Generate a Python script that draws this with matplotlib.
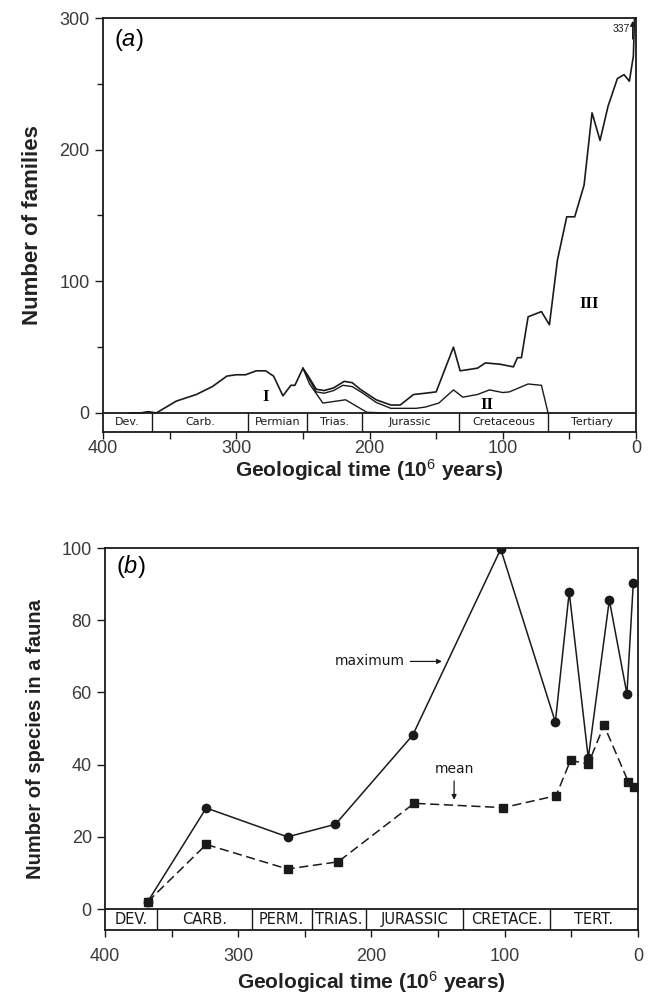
import matplotlib.pyplot as plt
from matplotlib.ticker import MultipleLocator

plt.rcParams['font.family'] = ['Liberation Sans', 'DejaVu Sans']
plt.rcParams['mathtext.fontset'] = 'custom'
plt.rcParams['mathtext.rm'] = 'Liberation Sans'
plt.rcParams['mathtext.it'] = 'Liberation Sans:italic'

# ---- panel (a): number of families through time ----
total_t = [380, 372, 366, 360, 345, 330, 318, 307, 300, 293, 285, 278, 272, 265, 259, 256,
           250, 246, 240, 234, 227, 219, 213, 207, 195, 184, 177, 167, 158, 150, 137, 132,
           119, 113, 102, 92, 89, 86, 81, 71, 65, 59, 52, 46, 39, 33, 27, 21, 14, 9, 5, 2, 0]
total_v = [0, 0, 1, 0, 9, 14, 20, 28, 29, 29, 32, 32, 28, 13, 21, 21,
           34, 28, 18, 17, 19, 24, 23, 18, 10, 6, 6, 14, 15, 16, 50, 32,
           34, 38, 37, 35, 42, 42, 73, 77, 67, 116, 149, 149, 173, 228, 207, 233, 254, 257, 252, 271, 337]

fauna2_t = [250, 240, 234, 227, 220, 213, 205, 195, 184, 177, 165, 158, 148, 137, 130,
            119, 110, 100, 95, 88, 81, 71, 66]
fauna2_v = [34, 16, 15, 17, 21, 20, 15, 8, 3.5, 3.5, 3.5, 4.5, 7.5, 17.5, 12,
            14, 17.5, 15.5, 16, 19, 22, 21, 0]

fauna1_t = [250, 245, 235, 218, 202, 188]
fauna1_v = [34, 22, 7.5, 10, 0.5, 0]

periods_a = ['Dev.', 'Carb.', 'Permian', 'Trias.', 'Jurassic', 'Cretaceous', 'Tertiary']
bounds_a = [400, 363, 291, 247, 206, 133, 66, 0]

# ---- panel (b): species per fauna ----
max_t = [368, 324, 263, 227, 169, 103, 62, 51.6, 37.3, 21.5, 8.3, 3.5]
max_v = [2, 28, 20, 23.5, 48.2, 99.7, 51.8, 87.8, 41.8, 85.6, 59.6, 90.4]

mean_t = [368, 324, 263, 225, 168, 101, 61.5, 50.6, 37.3, 25.5, 7.3, 3]
mean_v = [2, 17.9, 11.1, 13.1, 29.3, 28.1, 31.4, 41.2, 40.2, 50.9, 35.3, 33.8]

periods_b = ['DEV.', 'CARB.', 'PERM.', 'TRIAS.', 'JURASSIC', 'CRETACE.', 'TERT.']
bounds_b = [400, 361, 290, 245, 204, 131, 66, 0]

ink = '#1a1a1a'


def period_bar(ax, bounds, names, ybot, size, family):
    ax.axhline(0, color=ink, lw=1.3, zorder=3)
    for b in bounds[1:-1]:
        ax.plot([b, b], [ybot, 0], color=ink, lw=1.0, zorder=3)
    for i, name in enumerate(names):
        mid = (bounds[i] + bounds[i + 1]) / 2
        ax.text(mid, ybot / 2, name, ha='center', va='center', fontsize=size,
                family=family, color=ink)


def style_axes(ax, ylabel, ysize, xpad, lpad):
    ax.set_xlim(400, 0)
    ax.xaxis.set_major_locator(MultipleLocator(100))
    ax.xaxis.set_minor_locator(MultipleLocator(50))
    ax.tick_params(which='both', direction='out', color=ink, labelcolor='#3a3a3a',
                   labelsize=13, width=1.0)
    ax.tick_params(which='major', length=6)
    ax.tick_params(which='minor', length=4)
    ax.tick_params(axis='x', which='both', length=5, pad=xpad)
    for s in ax.spines.values():
        s.set_linewidth(1.3)
        s.set_color(ink)
    ax.set_xlabel('Geological time (10$^6$ years)', fontsize=15, fontweight='bold',
                  color='#222222', labelpad=lpad)
    ax.set_ylabel(ylabel, fontsize=ysize, fontweight='bold', color='#222222', labelpad=12)


fig = plt.figure(figsize=(6.5, 10.01), dpi=100)

# panel a
ax1 = fig.add_axes([0.1585, 0.5684, 0.82, 0.4136])
ax1.plot(total_t, total_v, color=ink, lw=1.2)
ax1.plot(fauna2_t, fauna2_v, color=ink, lw=1.0)
ax1.plot(fauna1_t, fauna1_v, color=ink, lw=1.0)
ax1.set_ylim(-14.5, 300)
ax1.yaxis.set_major_locator(MultipleLocator(100))
ax1.yaxis.set_minor_locator(MultipleLocator(50))
style_axes(ax1, 'Number of families', 16, 1, 0)
period_bar(ax1, bounds_a, periods_a, -14.5, 8, 'DejaVu Sans')
ax1.text(392, 283, r'$(\mathit{a})$', fontsize=17, va='center', ha='left')
ax1.text(278, 12, 'I', family='Liberation Serif', fontweight='bold', fontsize=12,
         ha='center', va='center')
ax1.text(112, 6, 'II', family='Liberation Serif', fontweight='bold', fontsize=12,
         ha='center', va='center')
ax1.text(35, 83, 'III', family='Liberation Serif', fontweight='bold', fontsize=12,
         ha='center', va='center')
ax1.annotate('', xy=(2.5, 300), xytext=(2.5, 282),
             arrowprops=dict(arrowstyle='-|>', color=ink, lw=1.0, mutation_scale=7))
ax1.text(4.5, 292, '337', fontsize=7.5, ha='right', va='center', color=ink)

# panel b
ax2 = fig.add_axes([0.1615, 0.0709, 0.82, 0.3816])
ax2.plot(max_t, max_v, color=ink, lw=1.1, marker='o', ms=6, mfc=ink, mec=ink)
ax2.plot(mean_t, mean_v, color=ink, lw=1.1, ls=(0, (6, 3)), marker='s', ms=6,
         mfc=ink, mec=ink)
ax2.set_ylim(-5.8, 100)
ax2.yaxis.set_major_locator(MultipleLocator(20))
style_axes(ax2, 'Number of species in a fauna', 14.5, 8, 3)
period_bar(ax2, bounds_b, periods_b, -5.8, 10.5, 'DejaVu Sans')
ax2.text(392, 95, r'$(\mathit{b})$', fontsize=17, va='center', ha='left')
ax2.annotate('maximum', xy=(145, 68.6), xytext=(175, 68.6), fontsize=10,
             family='DejaVu Sans', ha='right', va='center', color=ink,
             arrowprops=dict(arrowstyle='-|>', color=ink, lw=0.9, mutation_scale=7))
ax2.annotate('mean', xy=(138, 29.5), xytext=(138, 37), fontsize=10,
             family='DejaVu Sans', ha='center', va='bottom', color=ink,
             arrowprops=dict(arrowstyle='-|>', color=ink, lw=0.9, mutation_scale=7))

fig.savefig('out.png', dpi=100)
